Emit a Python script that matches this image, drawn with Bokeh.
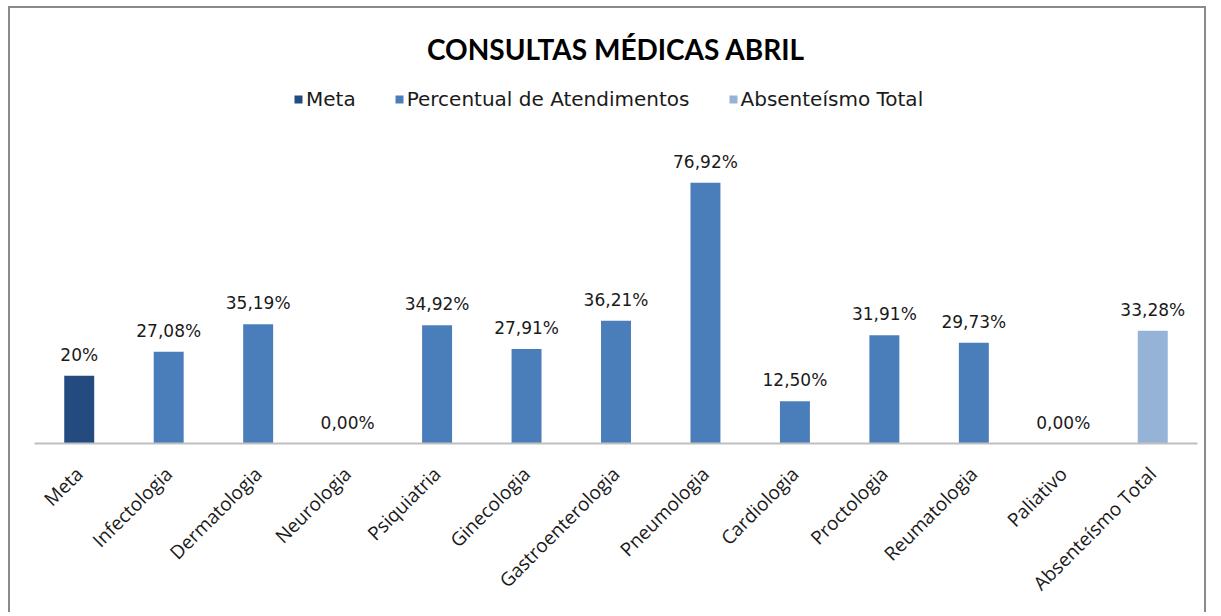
from bokeh.plotting import figure
from bokeh.models import ColumnDataSource, FactorRange, Range1d, Legend, LegendItem
from bokeh.core.properties import value
from bokeh.embed import file_html
from bokeh.resources import INLINE
import math

title_text = "CONSULTAS MÉDICAS ABRIL"
categories = ["Meta", "Infectologia", "Dermatologia", "Neurologia", "Psiquiatria",
              "Ginecologia", "Gastroenterologia", "Pneumologia", "Cardiologia",
              "Proctologia", "Reumatologia", "Paliativo", "Absenteísmo Total"]
series_names = ["Meta", "Percentual de Atendimentos", "Absenteísmo Total"]
meta_cats = ["Meta"]
meta_vals = [20.0]
meta_labels = ["20%"]
perc_cats = ["Infectologia", "Dermatologia", "Neurologia", "Psiquiatria", "Ginecologia",
             "Gastroenterologia", "Pneumologia", "Cardiologia", "Proctologia",
             "Reumatologia", "Paliativo"]
perc_vals = [27.08, 35.19, 0.00, 34.92, 27.91, 36.21, 76.92, 12.50, 31.91, 29.73, 0.00]
abs_cats = ["Absenteísmo Total"]
abs_vals = [33.28]


def fmt(v):
    return f"{v:.2f}".replace(".", ",") + "%"


perc_labels = [fmt(v) for v in perc_vals]
abs_labels = [fmt(v) for v in abs_vals]

colors = ["#244B7F", "#4A7EBB", "#95B3D7"]

p = figure(x_range=FactorRange(*categories), y_range=Range1d(0, 107.1),
           width=1198, height=606, output_backend="svg", toolbar_location=None,
           min_border_left=24, min_border_right=11, min_border_top=72,
           min_border_bottom=171)
p.styles = {"margin-left": "8px", "margin-top": "6px",
            "border-left": "2px solid #8a8a8a", "border-top": "2px solid #8a8a8a",
            "border-right": "2px solid #8a8a8a"}

p.title.text = title_text
p.title.align = "center"
p.title.text_font = "Lato"
p.title.text_font_style = "bold"
p.title.text_font_size = "28px"
p.title.text_color = "#000000"
p.title.standoff = 30

renderers = []
for cats, vals, labs, col in [(meta_cats, meta_vals, meta_labels, colors[0]),
                              (perc_cats, perc_vals, perc_labels, colors[1]),
                              (abs_cats, abs_vals, abs_labels, colors[2])]:
    src = ColumnDataSource(dict(x=cats, y=vals, lab=labs))
    r = p.vbar(x="x", top="y", width=0.335, source=src, fill_color=col, line_color=None)
    p.text(x="x", y="y", text="lab", source=src, text_align="center",
           text_baseline="bottom", y_offset=-11, text_font=value("DejaVu Sans"),
           text_font_size="17px", text_color="#1a1a1a")
    renderers.append(r)

legend = Legend(items=[LegendItem(label=n, renderers=[r]) for n, r in zip(series_names, renderers)],
                orientation="horizontal", location=(259, 332))
legend.glyph_width = 10
legend.glyph_height = 10
legend.label_standoff = 3
legend.spacing = 38
legend.padding = 2
legend.margin = 0
legend.border_line_color = None
legend.background_fill_alpha = 0
legend.label_text_font = "DejaVu Sans"
legend.label_text_font_size = "20px"
legend.label_text_color = "#1a1a1a"
p.add_layout(legend, "center")

p.yaxis.visible = False
p.xgrid.grid_line_color = None
p.ygrid.grid_line_color = None
p.outline_line_color = None
p.xaxis.axis_line_color = "#BFBFBF"
p.xaxis.axis_line_width = 2
p.xaxis.major_tick_line_color = None
p.xaxis.minor_tick_line_color = None
p.xaxis.major_label_orientation = math.pi / 4
p.xaxis.major_label_text_font = "Open Sans"
p.xaxis.major_label_text_font_size = "19px"
p.xaxis.major_label_text_color = "#1a1a1a"
p.xaxis.major_label_standoff = 21

open("out.html", "w").write(file_html(p, INLINE))
